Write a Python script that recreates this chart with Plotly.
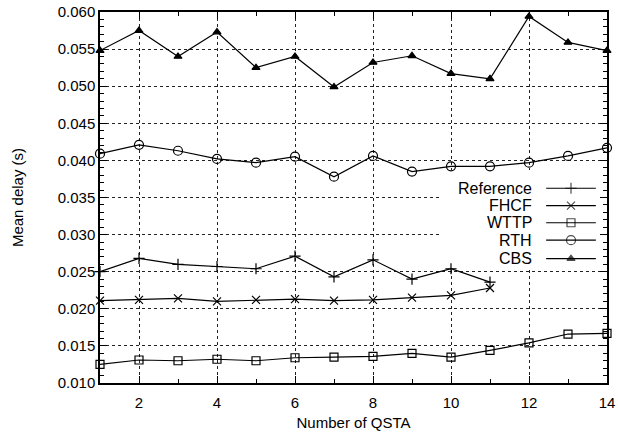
import plotly.graph_objects as go

qsta = list(range(1, 15))

reference = [0.0250, 0.0268, 0.0260, 0.0257, 0.0254, 0.0271, 0.0243, 0.0266, 0.0240, 0.0254, 0.0236]
fhcf = [0.0211, 0.0212, 0.0214, 0.0210, 0.0212, 0.0213, 0.0211, 0.0212, 0.0215, 0.0218, 0.0228]
wttp = [0.0125, 0.0131, 0.0130, 0.0132, 0.0130, 0.0134, 0.0135, 0.0136, 0.0140, 0.0135, 0.0144,
        0.0154, 0.0166, 0.0167]
rth = [0.0409, 0.0421, 0.0413, 0.0402, 0.0397, 0.0405, 0.0378, 0.0406, 0.0385, 0.0392, 0.0392,
       0.0397, 0.0406, 0.0417]
cbs = [0.0548, 0.0575, 0.0540, 0.0573, 0.0525, 0.0540, 0.0499, 0.0532, 0.0541, 0.0517, 0.0510,
       0.0594, 0.0559, 0.0548]

series_names = ["Reference", "FHCF", "WTTP", "RTH", "CBS"]
series_values = [reference, fhcf, wttp, rth, cbs]
symbols = ["cross-thin-open", "x-thin-open", "square-open", "circle-open", "triangle-up"]
sizes = [8, 8, 8, 9, 7]

X_RANGE = [1, 14]
Y_RANGE = [0.010, 0.060]

FONT = "Liberation Sans, Arial, sans-serif"
BLACK = "#000000"


def fx(f):
    return X_RANGE[0] + f * (X_RANGE[1] - X_RANGE[0])


def fy(f):
    return Y_RANGE[0] + f * (Y_RANGE[1] - Y_RANGE[0])


fig = go.Figure()

# white legend background (above grid, below traces)
fig.add_shape(type="rect", xref="x", yref="y", x0=fx(0.671), x1=fx(0.998), y0=fy(0.310), y1=fy(0.574),
              fillcolor="white", line=dict(width=0), layer="between")

for name, vals, sym, sz in zip(series_names, series_values, symbols, sizes):
    fig.add_trace(go.Scatter(
        x=qsta[:len(vals)], y=vals, mode="lines+markers", name=name,
        line=dict(color=BLACK, width=1.2),
        marker=dict(symbol=sym, size=sz, color=BLACK, line=dict(color=BLACK, width=1.2)),
        cliponaxis=False, showlegend=False,
    ))

# custom gnuplot-style legend (text left, sample right), placed by plot-area fractions
leg_rows = [0.525, 0.478, 0.432, 0.385, 0.335]
leg_x0, leg_xm, leg_x1, leg_text_x = 0.880, 0.929, 0.978, 0.856
for name, sym, sz, ry in zip(series_names, symbols, sizes, leg_rows):
    fig.add_trace(go.Scatter(
        x=[fx(leg_x0), fx(leg_xm), fx(leg_x1)], y=[fy(ry)] * 3, mode="lines+markers",
        showlegend=False, hoverinfo="skip",
        line=dict(color=BLACK, width=1.2),
        marker=dict(symbol=sym, size=[0, sz, 0], color=BLACK, line=dict(color=BLACK, width=1.2)),
        cliponaxis=False,
    ))
    fig.add_annotation(x=leg_text_x, y=ry, xref="x domain", yref="y domain", text=name, showarrow=False,
                       xanchor="right", yanchor="middle", font=dict(family=FONT, size=16, color=BLACK))

axis_common = dict(
    showline=True, linecolor=BLACK, linewidth=1.5, mirror="allticks",
    ticks="inside", ticklen=7, tickcolor=BLACK, tickwidth=1,
    showgrid=True, gridcolor="#222222", griddash="dot", gridwidth=1,
    zeroline=False, automargin=False,
    tickfont=dict(family=FONT, size=15, color=BLACK),
)

fig.update_layout(
    width=618, height=439,
    margin=dict(l=100, r=11, t=12, b=56),
    paper_bgcolor="white", plot_bgcolor="white",
    font=dict(family=FONT, size=15, color=BLACK),
    xaxis=dict(range=X_RANGE, tick0=0, dtick=2, ticklabelstandoff=5,
               minor=dict(dtick=1, ticks="inside", ticklen=4, tickcolor=BLACK, showgrid=False),
               title=dict(text="Number of QSTA", font=dict(family=FONT, size=15), standoff=8),
               **axis_common),
    yaxis=dict(range=Y_RANGE, tick0=0.010, dtick=0.005, tickformat=".3f",
               minor=dict(dtick=0.001, ticks="inside", ticklen=4, tickcolor=BLACK, showgrid=False),
               title=dict(text="Mean delay (s)", font=dict(family=FONT, size=15), standoff=30),
               **axis_common),
)

fig.write_html("out.html")
